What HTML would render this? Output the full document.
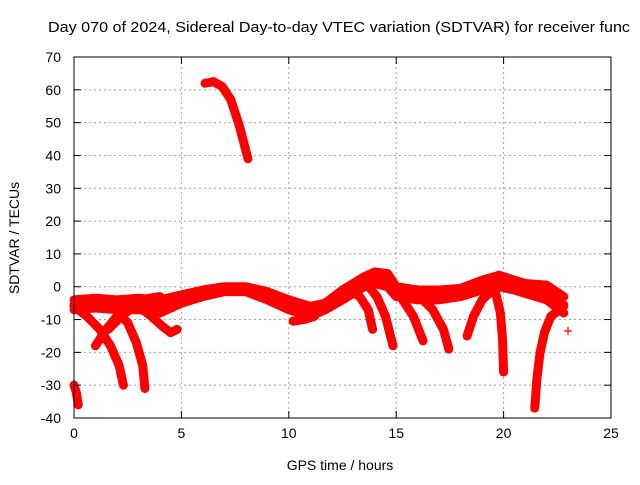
<!DOCTYPE html>
<html><head><meta charset="utf-8"><style>
body{margin:0;background:#fff}
svg{font-family:"Liberation Sans",sans-serif;font-size:14px}
</style></head><body>
<svg id="c" width="640" height="480" viewBox="0 0 640 480">
<text x="48" y="32" textLength="582" lengthAdjust="spacingAndGlyphs" style="font-size:15px">Day 070 of 2024, Sidereal Day-to-day VTEC variation (SDTVAR) for receiver func</text>
<g id="grid"></g><g id="series"></g><g id="axes"></g>
<text x="340" y="470" text-anchor="middle">GPS time / hours</text>
<text transform="translate(19,238) rotate(-90)" text-anchor="middle">SDTVAR / TECUs</text>
</svg>
<script>
const xTicks=[0,5,10,15,20,25];
const yTicks=[-40,-30,-20,-10,0,10,20,30,40,50,60,70];
const bandUpper=[[0,-4],[1,-3.5],[2,-4],[3,-3.5],[4,-4],[5,-2.5],[6,-1],[7,0],[8,0],[9,-1.5],[10,-4],[11,-6],[11.7,-5],[12.5,-1],[13,1],[13.5,3],[14,4.5],[14.6,4],[15,0],[16,-1],[17,-1],[18,-0.5],[19,2],[19.8,3.5],[20.5,2],[21,1],[22,0.5],[22.8,-3]];
const bandMid=[[0,-5.5],[1,-5],[2,-5.5],[3,-5],[4,-6],[5,-4],[6,-2],[7,-1],[8,-1],[9,-3],[10,-5.5],[11,-7.5],[11.7,-6],[12.5,-2.5],[13,-0.5],[13.5,1.5],[14,3],[14.6,2],[15,-1.5],[16,-2.5],[17,-2.5],[18,-2],[19,0.5],[19.8,2],[20.5,0.5],[21,-0.5],[22,-2],[22.8,-5.5]];
const bandLower=[[0,-7],[1,-6.5],[2,-7],[3,-7],[4,-8],[5,-5],[6,-3],[7,-1.5],[8,-1.5],[9,-4],[10,-7],[11,-9],[11.7,-7],[12.5,-4],[13,-2],[13.5,0],[14,1],[14.6,0],[15,-3],[16,-4],[17,-4],[18,-3],[19,-1],[19.8,0],[20.5,-1],[21,-2],[22,-4],[22.8,-8]];
const fallA=[[0,-6],[0.6,-9],[1.2,-13],[1.7,-18],[2.1,-24],[2.3,-30]];
const riseA=[[1,-18],[1.5,-13],[2,-9],[2.5,-6],[3,-4]];
const riseB=[[1.6,-13],[2.2,-9],[2.8,-6],[3.5,-3.5],[4,-3]];
const fallB=[[1.9,-7],[2.5,-11],[2.9,-17],[3.2,-24],[3.3,-31]];
const fallC=[[3,-6],[3.6,-9],[4.1,-12],[4.5,-14],[4.8,-13]];
const startDrop=[[0,-30],[0.1,-32],[0.2,-36]];
const highArc=[[6.1,62],[6.5,62.5],[6.9,61],[7.3,57],[7.7,49],[8.1,39]];
const dipA=[[10.2,-10.5],[10.7,-10],[11.2,-9]];
const fallD=[[12.8,-1],[13.3,-3],[13.7,-7],[13.9,-13]];
const fallE=[[13.6,1],[14.1,-3],[14.5,-9],[14.85,-18]];
const fallF=[[15.3,-4],[15.8,-9],[16.25,-16.5]];
const fallG=[[16.1,-3],[16.7,-7],[17.2,-13],[17.45,-19]];
const riseC=[[18.3,-15],[18.6,-9],[19,-4],[19.5,-1],[19.8,0]];
const fallH=[[19.6,-1],[19.85,-8],[19.95,-16],[20.0,-26]];
const fallI=[[22.8,-6],[22.2,-9],[21.9,-14],[21.7,-20],[21.55,-28],[21.45,-37]];
const lonePt=[[23,-13.5]];
const tracks=[bandUpper,bandMid,bandLower,fallA,riseA,riseB,fallB,fallC,startDrop,highArc,dipA,fallD,fallE,fallF,fallG,riseC,fallH,fallI,lonePt];
const X0=74,X1=611,Y0=418,Y1=57;
const sx=v=>X0+(v-0)/(25-0)*(X1-X0);
const sy=v=>Y0-(v+40)/110*(Y0-Y1);
const NS='http://www.w3.org/2000/svg';
function mk(t,a,p){const e=document.createElementNS(NS,t);for(const k in a)e.setAttribute(k,a[k]);p.appendChild(e);return e;}
const grid=document.getElementById('grid'),axes=document.getElementById('axes'),ser=document.getElementById('series');
xTicks.forEach(t=>{const x=sx(t);
 if(t>0&&t<25){const l=mk('line',{x1:x,x2:x,y1:Y1,y2:Y0,stroke:'#a0a0a0','stroke-dasharray':'2,3'},grid);}
 mk('line',{x1:x,x2:x,y1:Y0,y2:Y0-7,stroke:'#000'},axes);mk('line',{x1:x,x2:x,y1:Y1,y2:Y1+7,stroke:'#000'},axes);
 const tx=mk('text',{x:x,y:Y0+20,'text-anchor':'middle'},axes);tx.textContent=t;});
yTicks.forEach(t=>{const y=sy(t);
 if(t>-40&&t<70){const l=mk('line',{x1:X0,x2:X1,y1:y,y2:y,stroke:'#a0a0a0','stroke-dasharray':'2,3'},grid);}
 mk('line',{x1:X0,x2:X0+7,y1:y,y2:y,stroke:'#000'},axes);mk('line',{x1:X1,x2:X1-7,y1:y,y2:y,stroke:'#000'},axes);
 const tx=mk('text',{x:X0-13,y:y+5,'text-anchor':'end'},axes);tx.textContent=t;});
const fr=mk('rect',{x:X0,y:Y1,width:X1-X0,height:Y0-Y1,fill:'none',stroke:'#000'},axes);

tracks.forEach(tr=>{
 const g=mk('g',{},ser);
 
 
 if(tr.length>1)mk('polyline',{points:tr.map(p=>sx(p[0])+','+sy(p[1])).join(' '),fill:'none',stroke:'#ff0000','stroke-width':9,'stroke-linejoin':'round','stroke-linecap':'round'},g);
 tr.forEach(p=>{const x=sx(p[0]),y=sy(p[1]);mk('path',{d:`M${x-4},${y}h8M${x},${y-4}v8`,stroke:'#ff0000','stroke-width':1.2},g);});
});
</script>
</body></html>
